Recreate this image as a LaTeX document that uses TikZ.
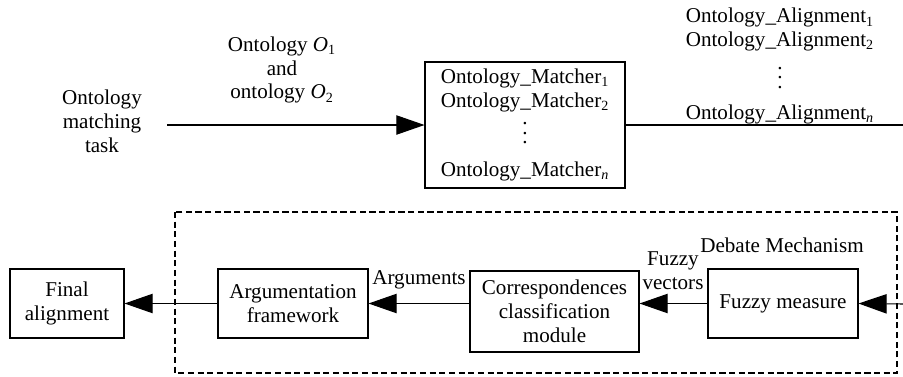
\documentclass[tikz,border=0pt]{standalone}
\usepackage{fontspec}
\setmainfont{Liberation Serif}
\usetikzlibrary{arrows.meta}

\tikzset{
  blk/.style={draw, line width=0.6pt, align=center, inner sep=0pt},
  lbl/.style={align=center, inner sep=0pt},
  flow/.style={line width=0.6pt, -{Triangle[length=16pt,width=11pt]}},
}
\newcommand{\idx}[1]{\textsubscript{#1}}
\newcommand{\stackdots}{\vbox{\baselineskip=5.4pt\lineskiplimit=-20pt\hbox{.}\hbox{.}\hbox{.}}}

\begin{document}
\begin{tikzpicture}[x=0.02cm,y=-0.02cm,font=\fontsize{12}{13.6}\selectfont]
\useasboundingbox (0,0) rectangle (903,376);

% matching stage
\node[lbl] (task) at (102,121) {Ontology\\matching\\task};
\node[blk, minimum width=4cm, minimum height=2.52cm] (matcher) at (525,125)
  {Ontology\_Matcher\idx{1}\\Ontology\_Matcher\idx{2}\\[5pt]\stackdots\\[5pt]Ontology\_Matcher\idx{\textit{n}}};
\node[lbl] (inputs) at (282,70) {Ontology \textit{O}\idx{1}\\and\\ontology \textit{O}\idx{2}};
\node[lbl] (aligns) at (780,66)
  {Ontology\_Alignment\idx{1}\\Ontology\_Alignment\idx{2}\\[8pt]\stackdots\\[4pt]Ontology\_Alignment\idx{\textit{n}}};
\coordinate (out) at (903,125);
\draw[flow, shorten <=0.5cm] (task.east |- matcher.west) -- (matcher.west);
\draw[line width=0.6pt] (matcher.east) -- (out);

% debate mechanism
\draw[line width=0.6pt, dash pattern=on 3.5pt off 2pt] (175,212) rectangle (897,373);
\node[blk, minimum width=2.28cm, minimum height=1.38cm] (final) at (67,303.5) {Final\\alignment};
\node[blk, minimum width=3cm, minimum height=1.38cm] (argfw) at (293,303.5) {Argumentation\\framework};
\node[blk, minimum width=3.38cm, minimum height=1.62cm] (classif) at (554.5,311.5)
  {Correspondences\\classification\\module};
\node[blk, minimum width=3cm, minimum height=1.38cm] (fuzzy) at (783,303.5) {Fuzzy measure};
\coordinate (in) at (903,304);

\draw[flow] (in) -- (fuzzy.east);
\draw[flow] (fuzzy.west) -- (classif.east |- fuzzy.west);
\draw[flow] (classif.west |- argfw.east) -- (argfw.east);
\draw[flow] (argfw.west) -- (final.east);

\node[lbl] (debate) at (782,245) {Debate Mechanism};
\node[lbl] (vectors) at (673,271) {Fuzzy\\vectors};
\node[lbl] (args) at (419,280) {Arguments};
\end{tikzpicture}
\end{document}
